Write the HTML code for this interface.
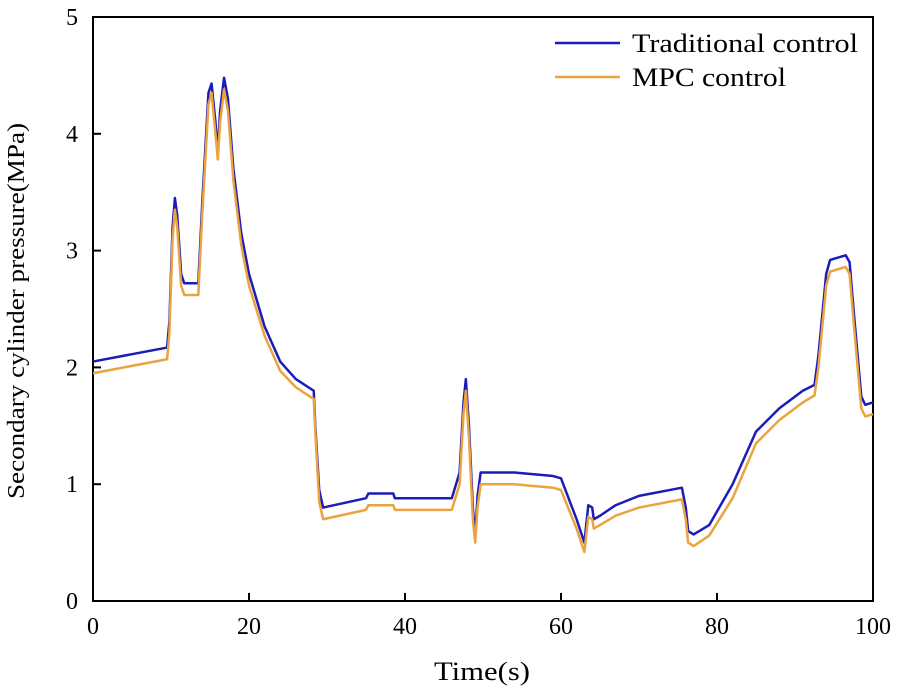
<!DOCTYPE html>
<html><head><meta charset="utf-8"><style>
body{margin:0;background:#fff;}
svg{display:block;font-family:"Liberation Serif",serif;}
</style></head><body>
<svg id="chart" width="900" height="691">
<rect x="93" y="17" width="780" height="584" fill="none" stroke="#000" stroke-width="2"/>
<g id="axes"></g>
<g id="series"></g>
<text x="24" y="311" transform="rotate(-90 24 311)" text-anchor="middle" font-size="24" textLength="376" lengthAdjust="spacingAndGlyphs">Secondary cylinder pressure(MPa)</text>
<text x="482" y="680" text-anchor="middle" font-size="26" textLength="96" lengthAdjust="spacingAndGlyphs">Time(s)</text>
<g>
<line x1="555" y1="43" x2="620" y2="43" stroke="#1c1cb8" stroke-width="2.5"/>
<text x="632" y="52" font-size="26" textLength="226" lengthAdjust="spacingAndGlyphs">Traditional control</text>
<line x1="555" y1="77" x2="620" y2="77" stroke="#eba340" stroke-width="2.5"/>
<text x="632" y="86" font-size="26" textLength="154" lengthAdjust="spacingAndGlyphs">MPC control</text>
</g>
</svg>
<script>
const xTicks=[0,20,40,60,80,100];
const yTicks=[0,1,2,3,4,5];
const tradT=[0,9.5,9.8,10.2,10.5,10.8,11.3,11.7,13.5,14,14.8,15.2,15.7,16,16.3,16.8,17.3,18,19,20,22,24,26,28.3,28.5,29,29.5,35,35.3,38.5,38.7,46,47,47.5,47.8,48.2,48.7,49,49.3,49.7,54,59,60,62,63,63.5,64,64.2,65,67,70,75.5,76,76.3,77,79,82,85,88,91,92.5,93,94,94.5,96.5,97,97.5,98.5,99,100];
const tradV=[2.05,2.17,2.4,3.2,3.45,3.3,2.8,2.72,2.72,3.4,4.35,4.43,4.1,3.85,4.2,4.48,4.3,3.7,3.15,2.8,2.35,2.05,1.9,1.8,1.5,0.95,0.8,0.88,0.92,0.92,0.88,0.88,1.1,1.7,1.9,1.5,0.8,0.55,0.9,1.1,1.1,1.07,1.05,0.7,0.5,0.82,0.8,0.7,0.73,0.82,0.9,0.97,0.8,0.6,0.57,0.65,1.0,1.45,1.65,1.8,1.85,2.1,2.8,2.92,2.96,2.9,2.5,1.75,1.68,1.7];
const mpcT=[0,9.5,9.8,10.2,10.5,10.8,11.3,11.7,13.5,14,14.8,15.2,15.7,16,16.3,16.8,17.3,18,19,20,22,24,26,28.3,28.5,29,29.5,35,35.3,38.5,38.7,46,47,47.5,47.8,48.2,48.7,49,49.3,49.7,54,59,60,62,63,63.5,64,64.2,65,67,70,75.5,76,76.3,77,79,82,85,88,91,92.5,93,94,94.5,96.5,97,97.5,98.5,99,100];
const mpcV=[1.95,2.07,2.3,3.1,3.35,3.2,2.7,2.62,2.62,3.3,4.25,4.35,4.0,3.78,4.1,4.38,4.2,3.6,3.05,2.7,2.27,1.97,1.83,1.73,1.45,0.85,0.7,0.78,0.82,0.82,0.78,0.78,1.0,1.6,1.8,1.4,0.7,0.5,0.8,1.0,1.0,0.97,0.95,0.62,0.42,0.72,0.7,0.62,0.65,0.73,0.8,0.87,0.7,0.5,0.47,0.56,0.88,1.35,1.55,1.7,1.76,2.0,2.7,2.82,2.86,2.8,2.4,1.65,1.58,1.6];
const X=t=>93+t*7.8, Y=v=>601-v*116.8;
const NS="http://www.w3.org/2000/svg";
const axes=document.getElementById('axes'), series=document.getElementById('series');
xTicks.forEach(t=>{
 const l=document.createElementNS(NS,'line');
 l.setAttribute('x1',X(t));l.setAttribute('x2',X(t));l.setAttribute('y1',601);l.setAttribute('y2',593);l.setAttribute('stroke','#000');l.setAttribute('stroke-width','2');
 
 
 axes.appendChild(l);
 const s=document.createElementNS(NS,'text');
 s.setAttribute('x',X(t));s.setAttribute('y',634);s.setAttribute('text-anchor','middle');s.setAttribute('font-size','24');s.textContent=t;
 
 
 axes.appendChild(s);
});
yTicks.forEach(v=>{
 const l=document.createElementNS(NS,'line');
 l.setAttribute('x1',93);l.setAttribute('x2',101);l.setAttribute('y1',Y(v));l.setAttribute('y2',Y(v));l.setAttribute('stroke','#000');l.setAttribute('stroke-width','2');
 
 
 axes.appendChild(l);
 const s=document.createElementNS(NS,'text');
 s.setAttribute('x',72);s.setAttribute('y',Y(v)+8);s.setAttribute('text-anchor','middle');s.setAttribute('font-size','24');s.textContent=v;
 
 
 axes.appendChild(s);
});
function line(ts,vs,color,name){
 const p=document.createElementNS(NS,'polyline');
 p.setAttribute('points',ts.map((t,i)=>X(t)+','+Y(vs[i])).join(' '));
 p.setAttribute('fill','none');p.setAttribute('stroke',color);p.setAttribute('stroke-width','2.5');p.setAttribute('stroke-linejoin','round');
 
 
 series.appendChild(p);
}
line(tradT,tradV,'#1c1cb8','traditional-control-line');
line(mpcT,mpcV,'#eba340','mpc-control-line');
</script>
</body></html>
